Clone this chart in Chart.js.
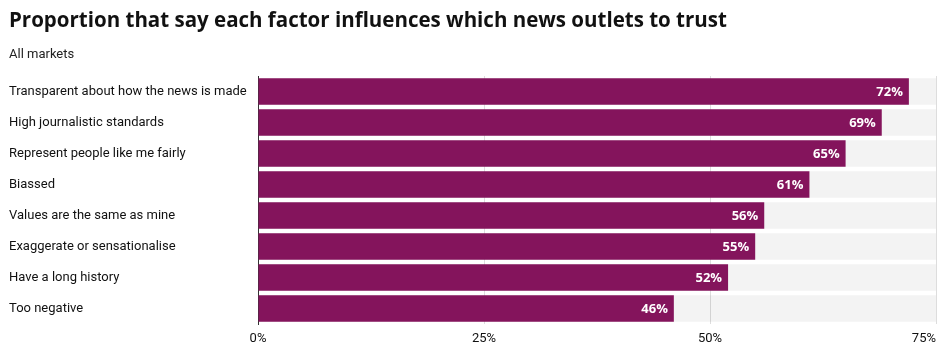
<!DOCTYPE html>
<html>
<head>
<meta charset="utf-8">
<script src="https://cdn.jsdelivr.net/npm/chart.js@4/dist/chart.umd.min.js"></script>
<style>
  html, body { margin: 0; padding: 0; background: #fff; }
  #wrap { position: relative; width: 948px; height: 359px; overflow: hidden; }
  #title { position: absolute; left: 9px; top: 9px; line-height: 21px; font-family: "Open Sans", Roboto, sans-serif; font-weight: 700; font-size: 20.5px; color: #111; white-space: nowrap; }
  #subtitle { position: absolute; left: 9px; top: 47px; line-height: 13px; font-family: Roboto, "Noto Sans", sans-serif; font-size: 13px; color: #222; white-space: nowrap; }
  canvas { position: absolute; left: 0; top: 0; }
</style>
</head>
<body>
<div id="wrap">
  <canvas id="c" width="948" height="359"></canvas>
  <div id="title">Proportion that say each factor influences which news outlets to trust</div>
  <div id="subtitle">All markets</div>
</div>
<script>
const categories = [
  "Transparent about how the news is made",
  "High journalistic standards",
  "Represent people like me fairly",
  "Biassed",
  "Values are the same as mine",
  "Exaggerate or sensationalise",
  "Have a long history",
  "Too negative"
];
const values = [72, 69, 65, 61, 56, 55, 52, 46];
const trackMax = 75;
const trackValues = categories.map(() => trackMax);
const tickValues = [0, 25, 50, 75];

const FONT = "Roboto, 'Noto Sans', sans-serif";
const LABEL_FONT = "'Open Sans', Roboto, sans-serif";

const valueLabels = {
  id: 'valueLabels',
  afterDatasetsDraw(chart) {
    const ctx = chart.ctx;
    const meta = chart.getDatasetMeta(0);
    ctx.save();
    ctx.font = "bold 13px " + LABEL_FONT;
    ctx.fillStyle = "#ffffff";
    ctx.textAlign = "right";
    ctx.textBaseline = "middle";
    meta.data.forEach((el, i) => {
      ctx.fillText(values[i] + "%", el.x - 6, el.y + 1);
    });
    ctx.restore();
  }
};

const lastTickRight = {
  id: 'lastTickRight',
  beforeDraw(chart) {
    const s = chart.scales.x;
    const items = s.getLabelItems();
    if (items && items.length) {
      items[items.length - 1].options.textAlign = 'right';
    }
  }
};

new Chart(document.getElementById('c'), {
  type: 'bar',
  data: {
    labels: categories,
    datasets: [
      {
        data: values,
        backgroundColor: '#84145c',
        grouped: false,
        order: 1,
        categoryPercentage: 1,
        barPercentage: 0.861
      },
      {
        data: trackValues,
        backgroundColor: 'rgba(0,0,0,0.047)',
        grouped: false,
        order: 2,
        categoryPercentage: 1,
        barPercentage: 0.861
      }
    ]
  },
  options: {
    indexAxis: 'y',
    responsive: false,
    animation: false,
    events: [],
    layout: { padding: { left: 9, right: 12, top: 76, bottom: 0 } },
    plugins: { legend: { display: false }, tooltip: { enabled: false } },
    scales: {
      x: {
        min: 0,
        max: trackMax,
        afterBuildTicks(scale) { scale.ticks = tickValues.map(v => ({ value: v })); },
        afterFit(scale) { scale.height = 35; scale.paddingLeft = 0; scale.paddingRight = 0; },
        grid: { color: '#dddddd', lineWidth: 1, drawTicks: false },
        border: { display: false },
        ticks: {
          padding: 7,
          color: '#111',
          font: { family: FONT, size: 13 },
          callback: v => v + '%'
        }
      },
      y: {
        afterFit(scale) { scale.width = 249; scale.paddingTop = 0; scale.paddingBottom = 0; },
        grid: { display: false, drawTicks: false },
        border: { display: true, color: '#333333', width: 1 },
        ticks: {
          crossAlign: 'far',
          color: '#111',
          font: { family: FONT, size: 13 },
          padding: 0
        }
      }
    }
  },
  plugins: [valueLabels, lastTickRight]
});
</script>
</body>
</html>
